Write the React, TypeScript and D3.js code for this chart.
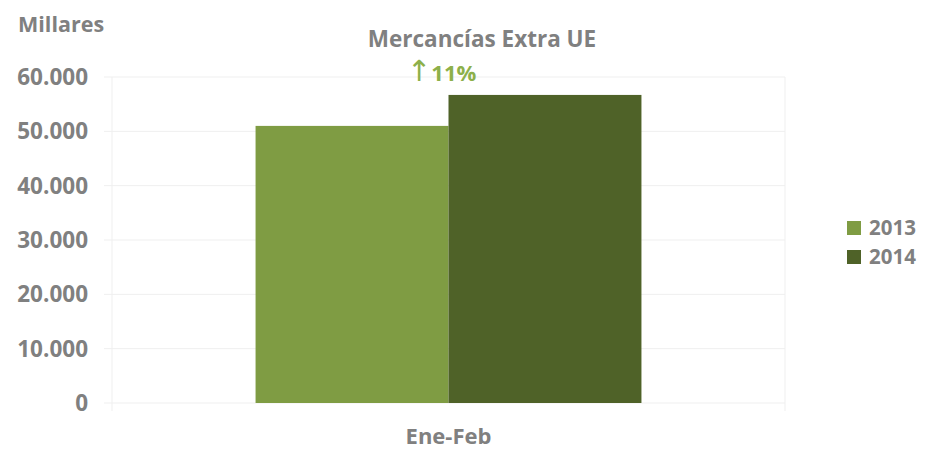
import React from "react";
import * as d3 from "d3";

const categories = ["Ene-Feb"];
const seriesNames = ["2013", "2014"];
const values2013 = [51000];
const values2014 = [56700];
const yTicks = [0, 10000, 20000, 30000, 40000, 50000, 60000];
const colors = ["#7f9c43", "#4f6228"];

const W = 928, H = 450;
const left = 112, right = 785, top = 77, bottom = 403;
const font = "'Open Sans', sans-serif";
const gray = "#808080";

export default function App() {
  const y = d3.scaleLinear().domain([0, 60000]).range([bottom, top]);
  const x0 = d3.scaleBand().domain(categories).range([left, right]).paddingInner(0).paddingOuter(0.372);
  const x1 = d3.scaleBand().domain(seriesNames).range([0, x0.bandwidth()]).padding(0);
  const fmt = (v: number) => d3.format(",")(v).replace(/,/g, ".");
  const series = [values2013, values2014];
  return (
    <svg width={W} height={H} style={{ position: "absolute", left: 0, top: 0, background: "#fff" }} fontFamily={font}>
      {yTicks.map((t) => (
        <g key={t}>
          <line x1={104} x2={right} y1={y(t)} y2={y(t)} stroke="#efefef" strokeWidth={1} />
          <text x={88} y={y(t)} dy="0.36em" textAnchor="end" fontSize={22.5} fontWeight="bold" fill={gray}>{fmt(t)}</text>
        </g>
      ))}
      <line x1={left} x2={left} y1={top} y2={411} stroke="#efefef" />
      <line x1={right} x2={right} y1={top} y2={411} stroke="#efefef" />
      {categories.map((c, i) => (
        <g key={c} transform={`translate(${x0(c)},0)`}>
          {seriesNames.map((s, j) => (
            <rect key={s} x={x1(s)} y={y(series[j][i])} width={x1.bandwidth()} height={bottom - y(series[j][i])} fill={colors[j]} />
          ))}
        </g>
      ))}
      {categories.map((c) => (
        <text key={c} x={(x0(c) as number) + x0.bandwidth() / 2} y={444} textAnchor="middle" fontSize={22} fontWeight="bold" fill={gray}>{c}</text>
      ))}
      <text x={18} y={32} fontSize={21.5} fontWeight="bold" fill={gray}>Millares</text>
      <text x={482} y={47} textAnchor="middle" fontSize={22.5} fontWeight="bold" fill={gray}>Mercancías Extra UE</text>
      <text x={407} y={81} fontSize={22} fontWeight="bold" fill="#8db04a">
        <tspan fontFamily="'DejaVu Sans', sans-serif" fontWeight="normal" fontSize={29}>↑</tspan>
        <tspan dx={0}>11%</tspan>
      </text>
      {seriesNames.map((s, j) => (
        <g key={s} transform={`translate(847,${221 + j * 29})`}>
          <rect x={0} y={0} width={14} height={14} fill={colors[j]} />
          <text x={22} y={7} dy="0.36em" fontSize={20.5} fontWeight="bold" fill={gray}>{s}</text>
        </g>
      ))}
    </svg>
  );
}
